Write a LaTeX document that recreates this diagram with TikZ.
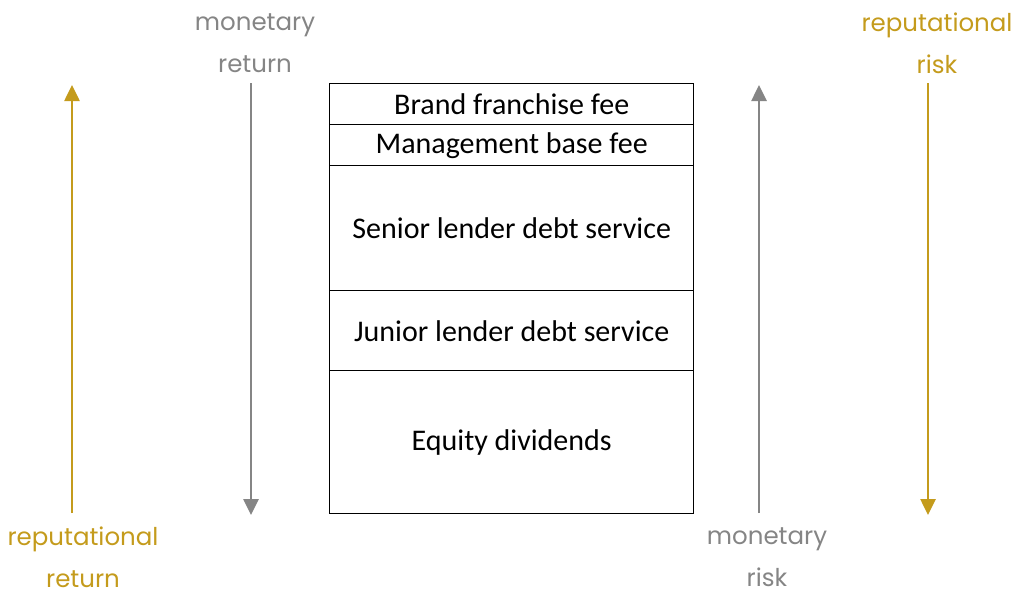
\documentclass[tikz,border=0pt]{standalone}
\usepackage{fontspec}
\setmainfont{Carlito}
\newfontfamily\labelfont{Poppins}
\usetikzlibrary{arrows.meta}
\definecolor{goldc}{HTML}{C49B1C}
\definecolor{grayc}{HTML}{858585}
\tikzset{
  rowbox/.style={draw=black, line width=1.4pt, minimum width=364pt, inner sep=0pt, font=\fontsize{30}{34}\selectfont},
  lbl/.style={font=\labelfont\fontsize{24.5}{42}\selectfont, align=center, inner sep=0pt},
  goldarrow/.style={draw=goldc, line width=2.6pt, -{Triangle[width=15pt,length=16pt]}},
  grayarrow/.style={draw=grayc, line width=2.6pt, -{Triangle[width=15pt,length=16pt]}}
}
\begin{document}
\begin{tikzpicture}[x=1pt,y=-1pt]
\useasboundingbox (0,0) rectangle (1024,598);
% box rows
\node[rowbox, minimum height=41pt, anchor=north west] (r1) at (329,83) {Brand franchise fee};
\node[rowbox, minimum height=41pt, anchor=north west] (r2) at (329,124) {Management base fee};
\node[rowbox, minimum height=125pt, anchor=north west] (r3) at (329,165) {Senior lender debt service};
\node[rowbox, minimum height=80pt, anchor=north west] (r4) at (329,290) {Junior lender debt service};
\node[rowbox, minimum height=143pt, anchor=north west] (r5) at (329,370) {Equity dividends};
% labels
\node[lbl, text=grayc] (mr) at (255,43) {monetary\\return};
\node[lbl, text=goldc] (rk) at (937,43) {reputational\\risk};
\node[lbl, text=goldc] (rr) at (83,557) {reputational\\return};
\node[lbl, text=grayc] (mk) at (767,557) {monetary\\risk};
% arrow end points
\coordinate (a1s) at (72,513); \coordinate (a1e) at (72,85);
\coordinate (a2s) at (251,83); \coordinate (a2e) at (251,515);
\coordinate (a3s) at (759,513); \coordinate (a3e) at (759,85);
\coordinate (a4s) at (928,83); \coordinate (a4e) at (928,515);
\draw[goldarrow] (a1s) -- (a1e);
\draw[grayarrow] (a2s) -- (a2e);
\draw[grayarrow] (a3s) -- (a3e);
\draw[goldarrow] (a4s) -- (a4e);
\end{tikzpicture}
\end{document}
